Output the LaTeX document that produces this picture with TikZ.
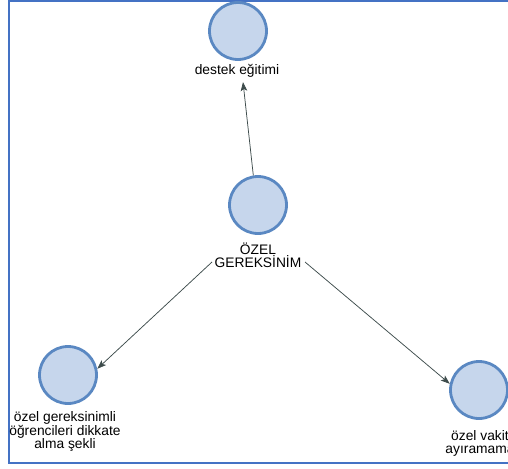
\documentclass[tikz,border=0pt]{standalone}
\usepackage{fontspec}
\setmainfont{Liberation Sans}
\usetikzlibrary{arrows.meta}
\definecolor{framec}{HTML}{4472C4}
\definecolor{discfill}{HTML}{C6D6EC}
\definecolor{discline}{HTML}{5A88C2}
\definecolor{edgec}{HTML}{3E4C4C}
\tikzset{
  disc/.style={circle, draw=discline, fill=discfill, line width=2.8pt,
    minimum size=57pt, inner sep=0pt},
  caption/.style={anchor=base, align=center, inner sep=1pt,
    font=\fontsize{13.8}{12.9}\selectfont, text=black},
  link/.style={draw=edgec, line width=0.75pt,
    -{Stealth[length=9pt,width=6.5pt,inset=2pt]}},
  frameline/.style={draw=framec, line width=2pt}
}
\begin{document}
\begin{tikzpicture}[x=1pt, y=-1pt]
  \useasboundingbox (0,0) rectangle (508,468);
  \clip (0,0) rectangle (508,468);

  % outer frame (open on the right)
  \coordinate (ftl) at (9,1);
  \coordinate (ftr) at (508,1);
  \coordinate (fbl) at (9,463);
  \coordinate (fbr) at (508,463);
  \draw[frameline] (ftr) -- (ftl) -- (fbl) -- (fbr);

  % circles
  \node[disc] (top) at (238,31) {};
  \node[disc] (ctr) at (258,205) {};
  \node[disc] (bl)  at (68,375) {};
  \node[disc] (br)  at (479,390) {};

  % captions (placed by the baseline of their last line)
  \node[caption] (toplbl) at (237,75) {destek eğitimi};
  \node[caption] (ctrlbl) at (258,267) {ÖZEL\\GEREKSİNİM};
  \node[caption] (bllbl)  at (65,448) {özel gereksinimli\\öğrencileri dikkate\\alma şekli};
  \node[caption] (brlbl)  at (480,453) {özel vakit\\ayıramama};

  % connector ends
  \coordinate (toptip) at (243,82);
  \coordinate (lstart) at (212,262);
  \coordinate (rstart) at (305,262);

  % connectors
  \draw[link] (ctr.99) -- (toptip);
  \draw[link] (lstart) -- (bl.12);
  \draw[link] (rstart) -- (br.168);
\end{tikzpicture}
\end{document}
